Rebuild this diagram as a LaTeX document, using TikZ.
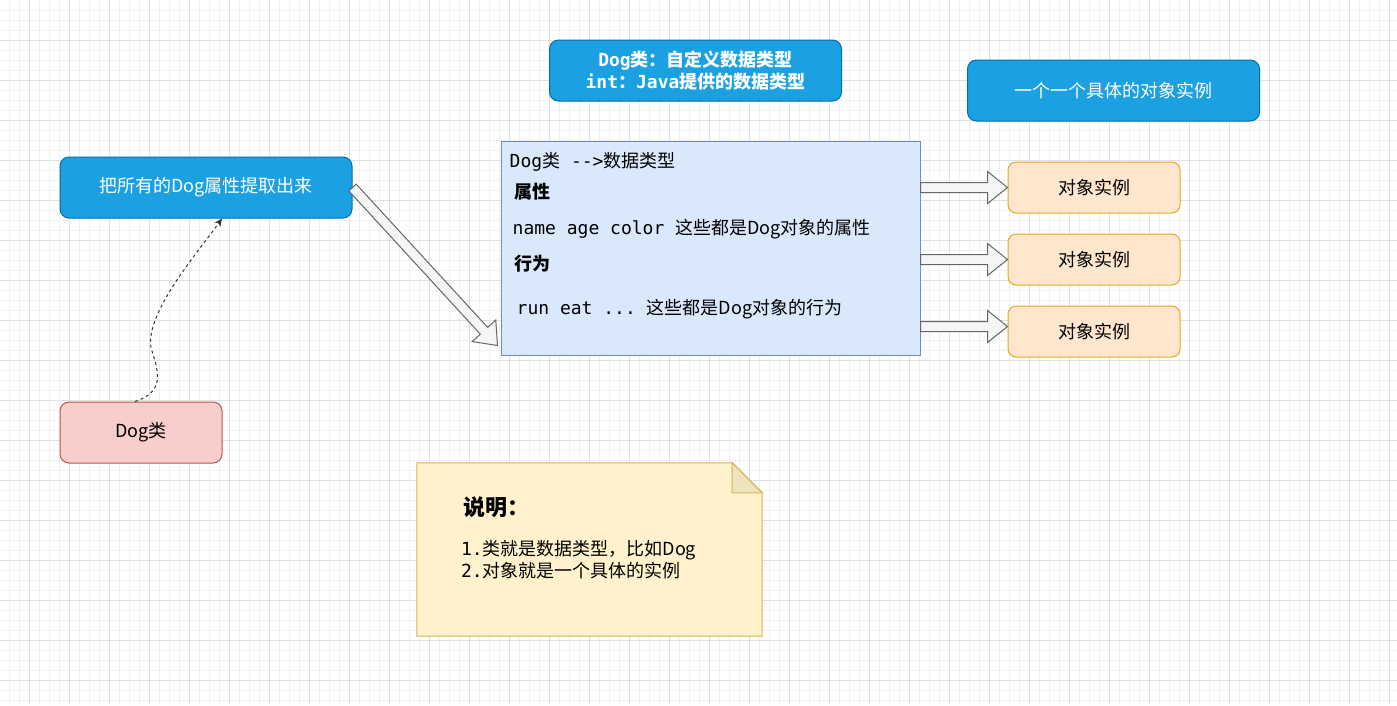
\documentclass[tikz,border=0pt]{standalone}
\usepackage{fontspec}
\setmainfont{Noto Sans CJK SC}
\setmonofont{DejaVu Sans Mono}
\usepackage{tikz}
\usetikzlibrary{arrows.meta,positioning,calc}
\definecolor{dioblue}{HTML}{1BA1E2}
\definecolor{dioblueline}{HTML}{006EAF}
\definecolor{diopink}{HTML}{F8CECC}
\definecolor{diopinkline}{HTML}{B85450}
\definecolor{diosky}{HTML}{DAE8FC}
\definecolor{dioskyline}{HTML}{6C8EBF}
\definecolor{dioorange}{HTML}{FFE6CC}
\definecolor{dioorangeline}{HTML}{D79B00}
\definecolor{dionote}{HTML}{FFF2CC}
\definecolor{dionoteline}{HTML}{D6B656}
\definecolor{dionotefold}{HTML}{EFE2BE}
\definecolor{dioarrow}{HTML}{F5F5F5}
\definecolor{dioarrowline}{HTML}{666666}
\definecolor{gridminor}{HTML}{F1F1F1}
\definecolor{gridmajor}{HTML}{E0E0E0}
\tikzset{
  minorgrid/.style={draw=gridminor, line width=1pt},
  majorgrid/.style={draw=gridmajor, line width=1pt},
  bluebox/.style={draw=dioblueline, fill=dioblue, rounded corners=9pt, line width=1pt,
    text=white, align=center, inner sep=0pt, minimum width=292pt, minimum height=61pt,
    font=\fontsize{18}{22}\selectfont},
  pinkbox/.style={draw=diopinkline, fill=diopink, rounded corners=9pt, line width=1pt,
    align=center, inner sep=0pt, minimum width=162pt, minimum height=61pt,
    font=\fontsize{18}{22}\selectfont},
  skybox/.style={draw=dioskyline, fill=diosky, line width=1pt, inner sep=0pt,
    minimum width=419pt, minimum height=214pt},
  orangebox/.style={draw=dioorangeline!85!white, fill=dioorange, rounded corners=8pt,
    line width=1pt, align=center, inner sep=0pt, minimum width=172pt, minimum height=51pt,
    font=\fontsize{18}{22}\selectfont},
  notearea/.style={inner sep=0pt, minimum width=345pt, minimum height=173pt},
  notepaper/.style={draw=dionoteline, fill=dionote, line width=1pt, line join=miter},
  notefold/.style={draw=dionoteline, fill=dionotefold, line width=1pt, line join=miter},
  boxtext/.style={anchor=west, inner sep=0pt, font=\fontsize{18}{22}\selectfont},
  blockarrow/.style={draw=dioarrowline, fill=dioarrow, line width=1pt, line join=miter},
  dashlink/.style={draw=black!80, line width=1pt, dash pattern=on 3pt off 3pt,
    -{Stealth[length=8pt, width=7pt]}}
}
\newcommand\blockarrow[2]{%
  \coordinate (headbase) at ($(#2)!20pt!(#1)$);
  \draw[blockarrow] ($(#1)!5pt!90:(#2)$) -- ($(headbase)!5pt!90:(#2)$)
    -- ($(headbase)!16pt!90:(#2)$) -- (#2) -- ($(headbase)!16pt!-90:(#2)$)
    -- ($(headbase)!5pt!-90:(#2)$) -- ($(#1)!5pt!-90:(#2)$) -- cycle;}

\begin{document}
\begin{tikzpicture}[x=1pt, y=-1pt]
    \useasboundingbox (0,0) rectangle (1397,705);
    \fill[white] (0,0) rectangle (1397,705);
    \foreach \gx in {9,19,...,1399} \draw[minorgrid] (\gx,0) -- (\gx,705);
    \foreach \gy in {10,20,...,700} \draw[minorgrid] (0,\gy) -- (1397,\gy);
    \foreach \gx in {29,69,...,1389} \draw[majorgrid] (\gx,0) -- (\gx,705);
    \foreach \gy in {40,80,...,680} \draw[majorgrid] (0,\gy) -- (1397,\gy);

    \node[bluebox, font=\fontsize{18}{22}\selectfont\bfseries] (typenote) at (695.5,70.5)
      {{\ttfamily Dog}类：自定义数据类型\\{\ttfamily int}：{\ttfamily Java}提供的数据类型};
    \node[bluebox] (instnote) at (1113.5,90.5) {一个一个具体的对象实例};
    \node[bluebox] (extract) at (206,187.5) {把所有的Dog属性提取出来};
    \node[pinkbox] (dogcls) at (141,432.5) {Dog类};

    \node[skybox] (big) at (710.5,248) {};
    \node[boxtext] (bigtitle) at ([shift={(9,21)}]big.north west) {{\ttfamily Dog}类{\ttfamily\ -->}数据类型};
    \node[boxtext] (attrhead) at ([shift={(14,51)}]big.north west) {\bfseries 属性};
    \node[boxtext] (attrline) at ([shift={(12,89)}]big.north west) {{\ttfamily name age color }这些都是Dog对象的属性};
    \node[boxtext] (acthead) at ([shift={(14,123)}]big.north west) {\bfseries 行为};
    \node[boxtext] (actline) at ([shift={(16,169)}]big.north west) {{\ttfamily run eat ... }这些都是Dog对象的行为};

    \node[orangebox] (inst1) at (1094,187.5) {对象实例};
    \node[orangebox, below=20pt of inst1] (inst2) {对象实例};
    \node[orangebox, below=20pt of inst2] (inst3) {对象实例};

    \node[notearea] (note) at (589.5,549.5) {};
    \draw[notepaper] (note.north west) -- ([xshift=-30pt]note.north east)
      -- ([yshift=-30pt]note.north east) -- (note.south east) -- (note.south west) -- cycle;
    \draw[notefold] ([xshift=-30pt]note.north east) -- ([xshift=-30pt,yshift=-30pt]note.north east)
      -- ([yshift=-30pt]note.north east) -- cycle;
    \node[boxtext, font=\fontsize{22}{26}\selectfont\bfseries] (notetitle) at ([shift={(46,44)}]note.north west) {说明：};
    \node[boxtext, align=left] (notebody) at ([shift={(44,97)}]note.north west)
      {{\ttfamily 1.}类就是数据类型，比如Dog\\{\ttfamily 2.}对象就是一个具体的实例};

    \coordinate (out1) at (big.east |- inst1);
    \coordinate (out2) at (big.east |- inst2);
    \coordinate (out3) at ([yshift=5pt]big.east |- inst3);
    \coordinate (in3) at ([yshift=5pt]inst3.west);
    \coordinate (bigin) at ([xshift=-3pt,yshift=10pt]big.south west);
    \coordinate (bend) at (151,348);

    \blockarrow{extract.east}{bigin}
    \blockarrow{out1}{inst1.west}
    \blockarrow{out2}{inst2.west}
    \blockarrow{out3}{in3}

    \draw[dashlink] ([xshift=-6pt]dogcls.north) .. controls +(30,-10) and +(8,25) .. (bend)
      .. controls +(-6,-35) and +(-25,35) .. ([xshift=16pt]extract.south);
\end{tikzpicture}
\end{document}
